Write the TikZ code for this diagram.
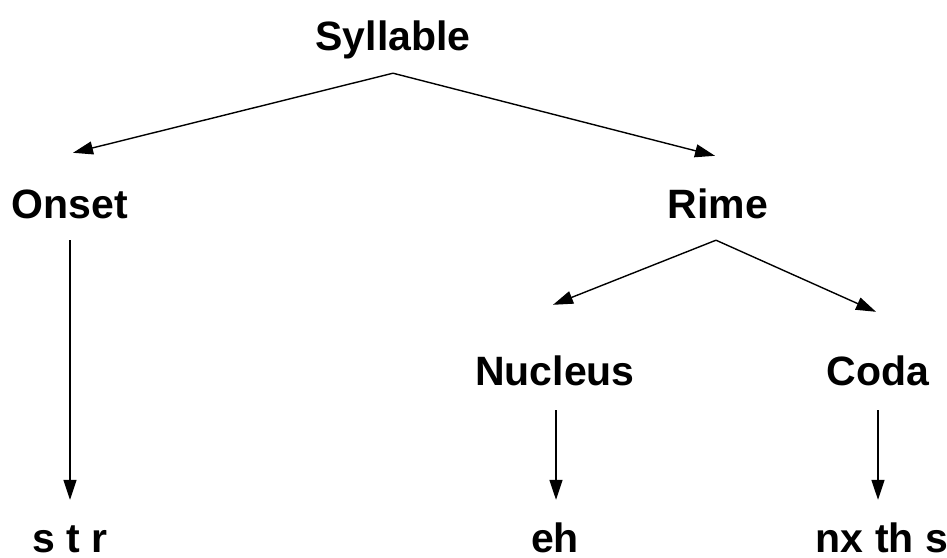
\documentclass[tikz,border=0pt]{standalone}
\usepackage{fontspec}
\setmainfont{Liberation Sans}
\usetikzlibrary{arrows.meta,calc}
\begin{document}
\begin{tikzpicture}[x=1pt,y=-1pt,
  lbl/.style={anchor=base,inner sep=0pt,text height=30pt,text depth=9pt,
    font=\fontsize{41}{48}\selectfont\bfseries},
  leaf/.style={lbl,text depth=1pt},
  arr/.style={-{Triangle[length=20pt,width=13pt]},line width=1.4pt}]
\useasboundingbox (0,0) rectangle (947,557);
% tree levels
\node[lbl] (syl)  at (393,50)  {Syllable};
\node[lbl] (ons)  at (70,218)  {Onset};
\node[lbl] (rime) at (718,218) {Rime};
\node[lbl] (nuc)  at (555,385) {Nucleus};
\node[lbl] (coda) at (878,385) {Coda};
\node[leaf] (str) at (70,552)  {s t r};
\node[leaf] (eh)  at (555,552) {eh};
\node[leaf] (nx)  at (882,552) {nx th s};
% branches
\draw[arr] ($(syl.south)+(0,14)$) -- ($(ons.north)+(3,-35)$);
\draw[arr] ($(syl.south)+(0,14)$) -- ($(rime.north)+(-3,-32)$);
\draw[arr] ($(ons.south)+(0,13)$) -- ($(str.north)+(0,-22)$);
\draw[arr] ($(rime.south)+(-2,13)$) -- ($(nuc.north)+(-2,-50)$);
\draw[arr] ($(rime.south)+(-2,13)$) -- ($(coda.north)+(-2,-43)$);
\draw[arr] ($(nuc.south)+(1,16)$) -- ($(eh.north)+(1,-22)$);
\draw[arr] ($(coda.south)+(0,16)$) -- ($(nx.north)+(-4,-22)$);
\end{tikzpicture}
\end{document}
